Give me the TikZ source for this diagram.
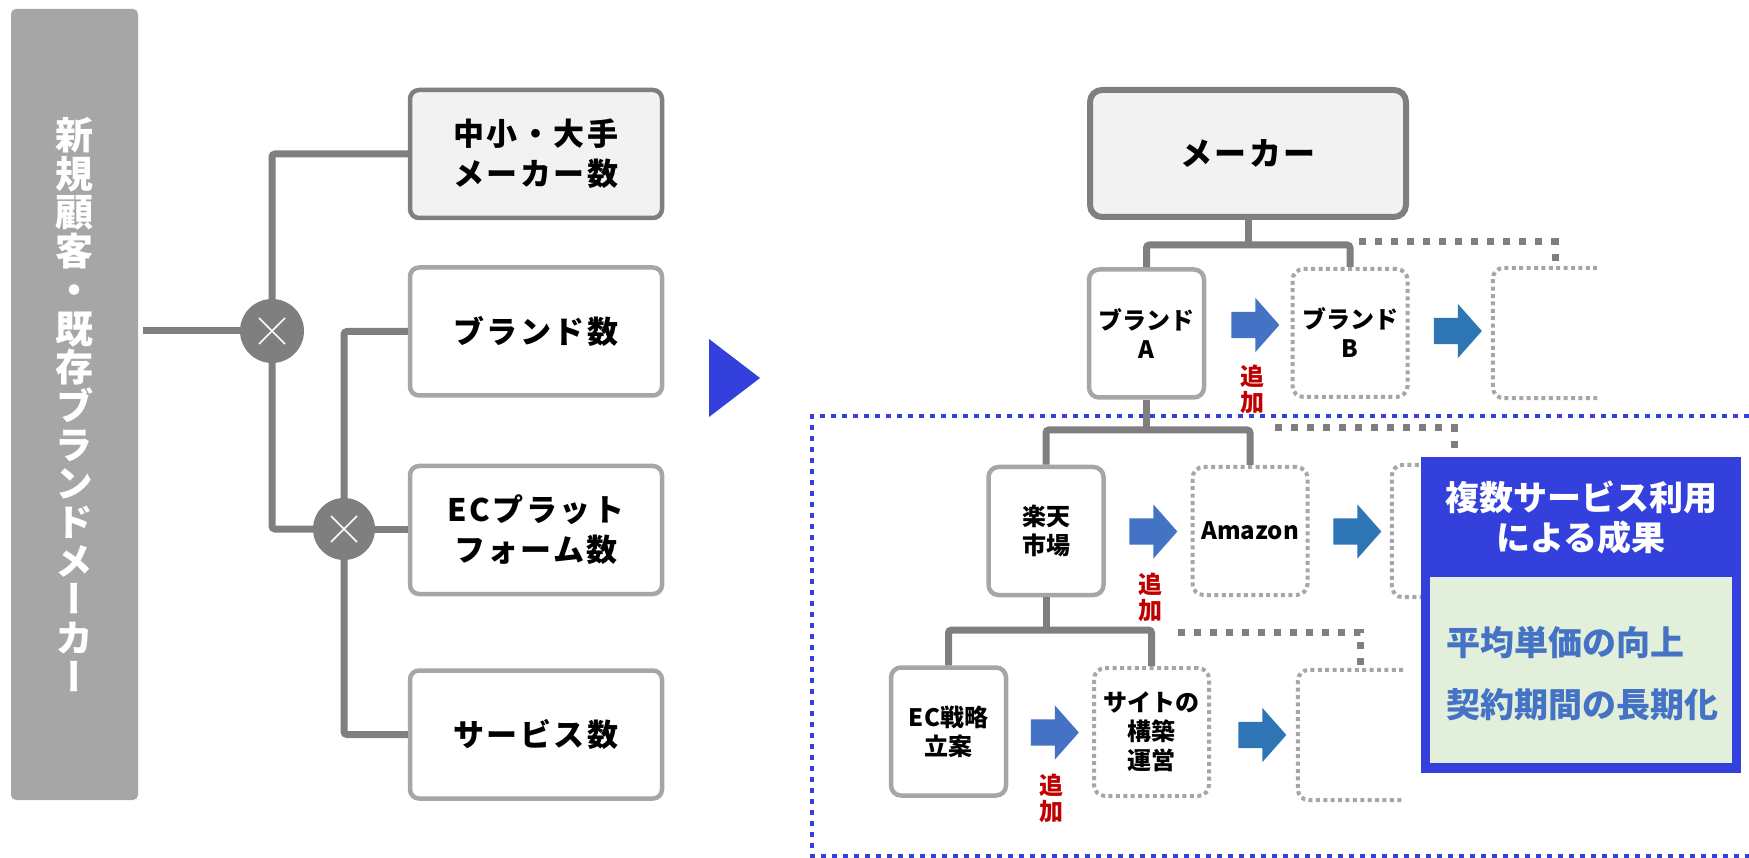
\documentclass[tikz,border=0pt]{standalone}
\usepackage{fontspec}
\setmainfont{Noto Sans CJK JP}
\newfontfamily\vjp{Noto Sans CJK JP}[RawFeature=+vert]
\newfontfamily\jpsp{Noto Sans CJK JP}[LetterSpace=8]
\usetikzlibrary{shapes.arrows,positioning,calc}
\definecolor{cdark}{HTML}{7F7F7F}
\definecolor{clight}{HTML}{A6A6A6}
\definecolor{cpale}{HTML}{F2F2F2}
\definecolor{cblue}{HTML}{3340DB}
\definecolor{carrowa}{HTML}{4472C4}
\definecolor{carrowb}{HTML}{2E75B6}
\definecolor{cred}{HTML}{C00000}
\definecolor{cgreen}{HTML}{E2EFDA}

\begin{document}
\begin{tikzpicture}[x=1pt, y=-1pt,
  conn/.style={draw=cdark, line width=7pt, rounded corners=3pt},
  dotconn/.style={draw=cdark, line width=7pt, dash pattern=on 7pt off 9pt},
  frame/.style={draw=cblue, line width=4.5pt, dash pattern=on 5pt off 6pt},
  box/.style={draw=clight, fill=white, line width=4.5pt, rounded corners=9pt,
    minimum width=252pt, minimum height=128pt, align=center,
    font=\jpsp\bfseries\fontsize{31}{40}\selectfont},
  sbox/.style={draw=clight, fill=white, line width=4.5pt, rounded corners=10pt,
    minimum width=115pt, minimum height=128pt, align=center, inner sep=0pt,
    font=\bfseries\fontsize{24}{29}\selectfont},
  dotbox/.style={sbox, draw=clight, line width=4pt, dash pattern=on 4pt off 3.4pt,
    rounded corners=11pt},
  ghost/.style={minimum height=130pt, inner sep=0pt},
  cross/.style={circle, fill=cdark, minimum size=64pt, inner sep=0pt,
    path picture={\draw[white, line width=1.6pt]
      ([shift={(-13,-13)}]path picture bounding box.center) -- ([shift={(13,13)}]path picture bounding box.center)
      ([shift={(-13,13)}]path picture bounding box.center) -- ([shift={(13,-13)}]path picture bounding box.center);}},
  arrowa/.style={single arrow, fill=carrowa, inner xsep=0pt, inner ysep=13pt,
    minimum height=48pt, minimum width=54pt, single arrow head extend=14pt,
    single arrow tip angle=97},
  arrowb/.style={arrowa, fill=carrowb},
  addlbl/.style={text=cred, align=center, inner sep=0pt,
    font=\bfseries\fontsize{24}{26}\selectfont}
]
  \useasboundingbox (0,0) rectangle (1749,858);

  % left: factor tree
  \node[fill=clight, rounded corners=5pt, minimum width=127pt, minimum height=791pt,
    text=white, align=center, font=\vjp\bfseries\fontsize{38}{38.7}\selectfont]
    (newbar) at (74.5,404.5) {新\\規\\顧\\客\\・\\既\\存\\ブ\\ラ\\ン\\ド\\メ\\ー\\カ\\ー};

  \node[box, draw=cdark, fill=cpale] (cnt) at (536,154) {中小・大手\\メーカー数};
  \node[box] (brd) at (536,331.5) {ブランド数};
  \node[box] (ecp) at (536,530) {ECプラット\\フォーム数};
  \node[box] (svc) at (536,734.5) {サービス数};

  \node[cross] (x1) at (272,331) {};
  \node[cross, minimum size=62pt] (x2) at (344,529) {};

  \draw[conn] ($(newbar.east |- x1)+(5,0)$) -- (x1.west);
  \draw[conn] (x1.north) |- (cnt.west);
  \draw[conn] (x1.south) |- (x2.west);
  \draw[conn] (x2.north) |- (brd.west);
  \draw[conn] (x2.east) -- (x2.east -| ecp.west);
  \draw[conn] (x2.south) |- (svc.west);

  \fill[cblue] (709,339) -- (760,378) -- (709,417) -- cycle;

  % right: maker / brand / platform / service
  \draw[frame] (1760,416) -| (812,856) -- (1760,856);

  \node[sbox, draw=cdark, fill=cpale, line width=6pt, rounded corners=12pt,
    minimum width=316pt, minimum height=127pt, font=\jpsp\bfseries\fontsize{32}{38}\selectfont]
    (maker) at (1248,153.5) {メーカー};
  \node[sbox] (brandA) at (1146.5,333.5) {ブランド\\A};
  \node[dotbox] (brandB) at (1350,333) {ブランド\\B};
  \node[ghost, minimum width=104pt] (brandC) at (1545,333) {};
  \draw[dotbox] (brandC.north east) -- (brandC.north west) -- (brandC.south west) -- (brandC.south east);

  \node[sbox] (rakuten) at (1046,531) {楽天\\市場};
  \node[dotbox] (amazon) at (1250,531) {Amazon};
  \node[ghost, minimum width=108pt, minimum height=132pt] (r2c) at (1446,531) {};
  \draw[dotbox] (r2c.north east) -- (r2c.north west) -- (r2c.south west) -- (r2c.south east);

  \node[sbox] (ecplan) at (948.5,731.5) {EC戦略\\立案};
  \node[dotbox] (site) at (1151.5,732) {サイトの\\構築\\運営};
  \node[ghost, minimum width=105pt] (r3c) at (1350.5,735) {};
  \draw[dotbox] (r3c.north east) -- (r3c.north west) -- (r3c.south west) -- (r3c.south east);

  \coordinate (brsplit) at (1248,245);
  \coordinate (rksplit) at (1146.5,430);
  \coordinate (ecsplit) at (1046,630);

  \draw[conn] (maker.south) -- (brsplit);
  \draw[conn] (brandA.north) |- (brsplit) -| (brandB.north);
  \draw[dotconn] ($(brsplit)+(111,-3)$) -| ($(brandC.north)+(10,-6)$);

  \draw[conn] (brandA.south) -- (rksplit);
  \draw[conn] (rakuten.north) |- (rksplit) -| (amazon.north);
  \draw[dotconn] ($(rksplit)+(128.5,-2)$) -| ($(r2c.north)+(8,-8)$);

  \draw[conn] (rakuten.south) -- (ecsplit);
  \draw[conn] (ecplan.north) |- (ecsplit) -| (site.north);
  \draw[dotconn] ($(ecsplit)+(132,2)$) -| ($(r3c.north)+(9.5,-5)$);

  \node[arrowa] (arA1) at (1249.5,325) {};
  \node[arrowb] (arA2) at (1452,331) {};
  \node[addlbl] (addA) at (1252,389.5) {追\\加};

  \node[arrowa] (arB1) at (1147.5,531.5) {};
  \node[arrowb] (arB2) at (1351.5,531.5) {};
  \node[addlbl] (addB) at (1150,597) {追\\加};

  \node[arrowa] (arC1) at (1049,732.5) {};
  \node[arrowb] (arC2) at (1256.5,735) {};
  \node[addlbl] (addC) at (1051,798.5) {追\\加};

  % result panel
  \node[fill=cblue, minimum width=320pt, minimum height=316pt, inner sep=0pt] (result) at (1581,615) {};
  \node[fill=cgreen, minimum width=302pt, minimum height=186pt, inner sep=0pt] (gainbox) at (1581,670) {};
  \node[text=white, align=center, font=\bfseries\fontsize{34}{40}\selectfont] (restitle) at (1581,518) {複数サービス利用\\による成果};
  \node[anchor=west, text=carrowa, align=left, inner sep=0pt, font=\bfseries\fontsize{34}{62}\selectfont]
    (gains) at (1446,674) {平均単価の向上\\契約期間の長期化};
\end{tikzpicture}
\end{document}
